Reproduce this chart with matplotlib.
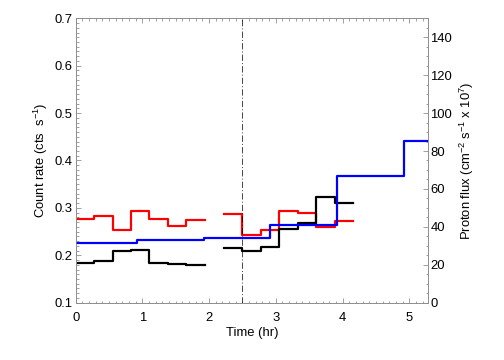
import matplotlib
matplotlib.use("Agg")
from matplotlib import pyplot as plt
from matplotlib.ticker import MultipleLocator

plt.rcParams.update({'font.family': 'Liberation Sans', 'font.size': 13,
                     'mathtext.fontset': 'custom', 'mathtext.rm': 'Liberation Sans',
                     'mathtext.it': 'Liberation Sans'})

# count-rate bins (hr), two observation chunks
t_edges_1 = [0.0, 0.277, 0.553, 0.83, 1.106, 1.383, 1.66, 1.936]
t_edges_2 = [2.22, 2.497, 2.773, 3.05, 3.327, 3.603, 3.88, 4.157]
red_1 = [0.276, 0.283, 0.253, 0.294, 0.277, 0.261, 0.274]
red_2 = [0.287, 0.243, 0.253, 0.294, 0.289, 0.260, 0.272]
black_1 = [0.183, 0.189, 0.208, 0.211, 0.184, 0.181, 0.179]
black_2 = [0.216, 0.208, 0.218, 0.255, 0.269, 0.324, 0.311]

# proton flux, hourly bins
flux_edges = [-0.08, 0.92, 1.92, 2.92, 3.92, 4.92, 5.92]
flux = [31.3, 33.1, 34.3, 41.0, 66.8, 85.4]

t_mark = 2.5

fig = plt.figure(figsize=(7, 5), dpi=72)
ax = fig.add_axes([0.1502, 0.1592, 0.6996, 0.79])
ax2 = ax.twinx()

for edges, vals, c in [(t_edges_1, red_1, 'red'), (t_edges_2, red_2, 'red'),
                       (t_edges_1, black_1, 'black'), (t_edges_2, black_2, 'black')]:
    ax.step(edges, vals + [vals[-1]], where='post', color=c, lw=2.2)

ax2.step(flux_edges, flux + [flux[-1]], where='post', color='blue', lw=2.2)
ax.axvline(t_mark, color='black', lw=0.7, ls=(0, (9, 3, 1.5, 3)))

ax.set_xlim(0, 5.286)
ax.set_ylim(0.1, 0.7)
ax2.set_ylim(0, 150)

ax.xaxis.set_major_locator(MultipleLocator(1))
ax.xaxis.set_minor_locator(MultipleLocator(0.1))
ax.yaxis.set_major_locator(MultipleLocator(0.1))
ax.yaxis.set_minor_locator(MultipleLocator(0.01))
ax2.yaxis.set_major_locator(MultipleLocator(20))
ax2.yaxis.set_minor_locator(MultipleLocator(5))

for a in (ax, ax2):
    for s in a.spines.values():
        s.set_color('0.55')
        s.set_linewidth(0.8)
ax.tick_params(which='both', direction='in', top=True, right=False, color='0.55', width=0.8)
ax.tick_params(which='major', length=5)
ax.tick_params(which='minor', length=2.5)
ax.tick_params(axis='x', pad=9)
ax.tick_params(axis='y', pad=3)
ax2.tick_params(which='both', direction='in', color='0.55', width=0.8, pad=2)
ax2.tick_params(which='major', length=5)
ax2.tick_params(which='minor', length=2.5)

ax.set_xlabel("Time (hr)", labelpad=3)
ax.set_ylabel(r"Count rate (cts  s$^{-1}$)", labelpad=5)
ax2.set_ylabel(r"Proton flux (cm$^{-2}$ s$^{-1}$ x 10$^{7}$)", labelpad=6)

plt.savefig("out.png", dpi=72)
